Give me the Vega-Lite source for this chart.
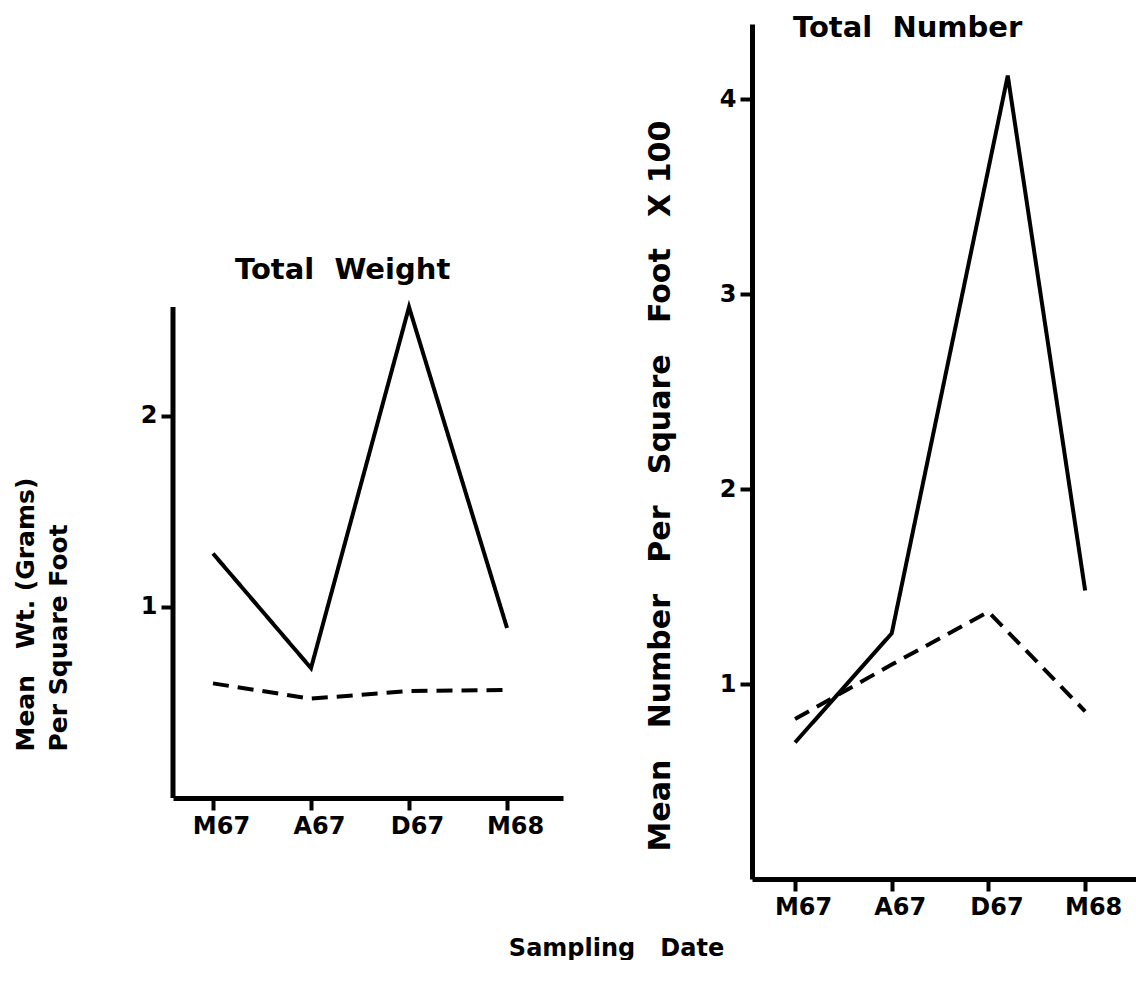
{
  "$schema": "https://vega.github.io/schema/vega-lite/v6.json",
  "background": "white",
  "padding": {"left": 13, "top": 14, "right": 0, "bottom": 0},
  "bounds": "flush",
  "spacing": 189,
  "config": {
    "view": {"stroke": null},
    "font": "DejaVu Sans",
    "axis": {
      "grid": false,
      "domainColor": "black",
      "domainWidth": 5,
      "tickColor": "black",
      "tickWidth": 4,
      "tickSize": 12,
      "labelColor": "black",
      "labelFont": "DejaVu Sans",
      "labelFontWeight": "bold",
      "labelFontSize": 24,
      "titleColor": "black",
      "titleFont": "DejaVu Sans",
      "titleFontWeight": "bold",
      "titleFontSize": 25
    },
    "title": {
      "font": "DejaVu Sans",
      "fontWeight": "bold",
      "fontSize": 29,
      "color": "black",
      "anchor": "start",
      "frame": "group",
      "baseline": "alphabetic"
    }
  },
  "datasets": {
    "weight": [
      {"date": "M67", "t": 1, "series": "solid", "value": 1.28},
      {"date": "A67", "t": 2, "series": "solid", "value": 0.68},
      {"date": "D67", "t": 3, "series": "solid", "value": 2.57},
      {"date": "M68", "t": 4, "series": "solid", "value": 0.89},
      {"date": "M67", "t": 1, "series": "dashed", "value": 0.60},
      {"date": "A67", "t": 2, "series": "dashed", "value": 0.52},
      {"date": "D67", "t": 3, "series": "dashed", "value": 0.56},
      {"date": "M68", "t": 4, "series": "dashed", "value": 0.565}
    ],
    "number": [
      {"date": "M67", "t": 1, "series": "solid", "value": 0.70},
      {"date": "A67", "t": 2, "series": "solid", "value": 1.26},
      {"date": "D67", "t": 3.2, "series": "solid", "value": 4.12},
      {"date": "M68", "t": 4, "series": "solid", "value": 1.48},
      {"date": "M67", "t": 1, "series": "dashed", "value": 0.82},
      {"date": "A67", "t": 2, "series": "dashed", "value": 1.10},
      {"date": "D67", "t": 3, "series": "dashed", "value": 1.37},
      {"date": "M68", "t": 4, "series": "dashed", "value": 0.86}
    ]
  },
  "hconcat": [
    {
      "width": 390,
      "height": 774,
      "title": {"text": "Total\u00a0\u00a0Weight", "offset": -261, "dx": 62},
      "layer": [
        {
          "data": {"values": [{"t": 0.592, "lo": 0, "hi": 2.57}]},
          "mark": {"type": "rule", "strokeWidth": 5, "color": "black"},
          "encoding": {
            "x": {"field": "t", "type": "quantitative"},
            "y": {"field": "lo", "type": "quantitative"},
            "y2": {"field": "hi"}
          }
        },
        {
          "data": {"name": "weight"},
          "mark": {"type": "line", "color": "black", "strokeWidth": 4},
          "encoding": {
            "x": {
              "field": "t", "type": "quantitative",
              "scale": {"domain": [0.592, 4.571], "nice": false, "zero": false},
              "axis": {
                "values": [1, 2, 3, 4],
                "labelExpr": "datum.value == 1 ? 'M67' : datum.value == 2 ? 'A67' : datum.value == 3 ? 'D67' : 'M68'",
                "labelOffset": 8,
                "labelPadding": 4,
                "title": "Sampling\u00a0\u00a0\u00a0Date",
                "titleFontSize": 24,
                "titleX": 443,
                "titleY": 150,
                "titleAlign": "center",
                "titleBaseline": "middle"
              }
            },
            "y": {
              "field": "value", "type": "quantitative",
              "scale": {"domain": [0, 4.052], "nice": false},
              "axis": {
                "values": [1, 2],
                "format": "d",
                "domain": false,
                "labelPadding": 4,
                "title": ["Mean\u00a0\u00a0\u00a0Wt.\u00a0(Grams)", "Per\u00a0Square\u00a0Foot"],
                "titleAngle": -90,
                "titleAlign": "left",
                "titleBaseline": "middle",
                "titleLineHeight": 33,
                "titleX": -148,
                "titleY": 727
              }
            },
            "strokeDash": {
              "field": "series", "type": "nominal",
              "scale": {"domain": ["solid", "dashed"], "range": [[1, 0], [16, 9]]},
              "legend": null
            }
          }
        }
      ]
    },
    {
      "width": 384,
      "height": 855,
      "title": {"text": "Total\u00a0\u00a0Number", "offset": -19, "dx": 41},
      "data": {"name": "number"},
      "mark": {"type": "line", "color": "black", "strokeWidth": 4},
      "encoding": {
        "x": {
          "field": "t", "type": "quantitative",
          "scale": {"domain": [0.555, 4.526], "nice": false, "zero": false},
          "axis": {
            "values": [1, 2, 3, 4],
            "labelExpr": "datum.value == 1 ? 'M67' : datum.value == 2 ? 'A67' : datum.value == 3 ? 'D67' : 'M68'",
            "labelOffset": 8,
            "labelPadding": 4,
            "title": null
          }
        },
        "y": {
          "field": "value", "type": "quantitative",
          "scale": {"domain": [0, 4.385], "nice": false},
          "axis": {
            "values": [1, 2, 3, 4],
            "format": "d",
            "labelPadding": 4,
            "title": "Mean\u00a0\u00a0\u00a0Number\u00a0\u00a0\u00a0Per\u00a0\u00a0\u00a0Square\u00a0\u00a0\u00a0Foot\u00a0\u00a0\u00a0X\u00a0100",
            "titleFontSize": 30,
            "titleAngle": -90,
            "titleAlign": "left",
            "titleBaseline": "middle",
            "titleX": -92,
            "titleY": 827
          }
        },
        "strokeDash": {
          "field": "series", "type": "nominal",
          "scale": {"domain": ["solid", "dashed"], "range": [[1, 0], [16, 9]]},
          "legend": null
        }
      }
    }
  ]
}
